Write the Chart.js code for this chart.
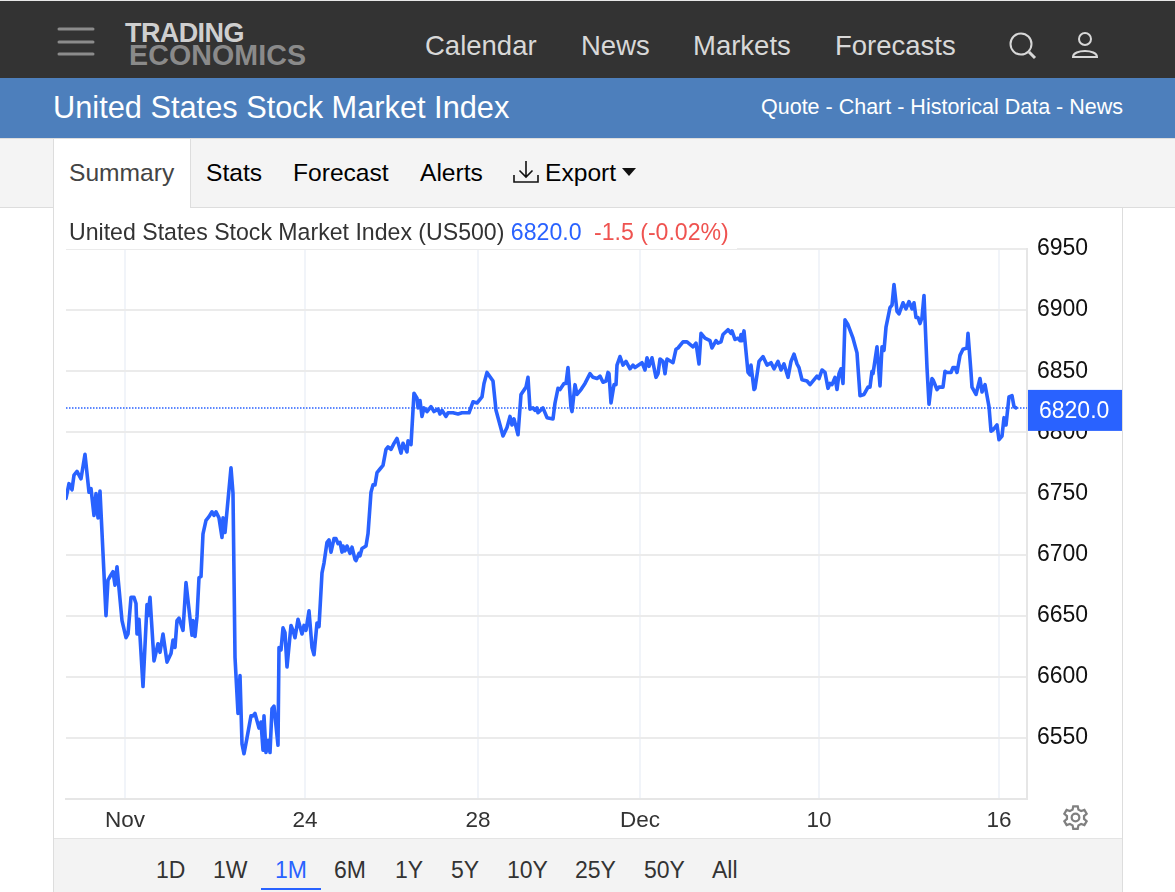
<!DOCTYPE html>
<html>
<head>
<meta charset="utf-8">
<title>United States Stock Market Index</title>
<script src="https://cdn.jsdelivr.net/npm/chart.js@4/dist/chart.umd.min.js"></script>
<style>
  html, body { margin: 0; padding: 0; background: #fff; }
  body { width: 1175px; height: 892px; position: relative; overflow: hidden; font-family: "Liberation Sans", Arial, sans-serif; }
  .abs { position: absolute; white-space: nowrap; line-height: 1; }
  #top { position: absolute; left: 0; top: 0; width: 1175px; height: 78px; background: #333; border-top: 1px solid #e8e8e8; box-sizing: border-box; }
  #blue { position: absolute; left: 0; top: 78px; width: 1175px; height: 60px; background: #4d7fbc; }
  #tabs { position: absolute; left: 0; top: 138px; width: 1175px; height: 68px; background: #f4f4f4; border-top: 1px solid #ddd; border-bottom: 1px solid #ddd; }
  #summaryTab { position: absolute; left: 53px; top: 139px; width: 136px; height: 69px; background: #fff; border-left: 1px solid #ddd; border-right: 1px solid #ddd; }
  #frameL { position: absolute; left: 53px; top: 208px; width: 1px; height: 684px; background: #ddd; }
  #frameR { position: absolute; left: 1122px; top: 208px; width: 1px; height: 684px; background: #ddd; }
  #chartBox { position: absolute; left: 54px; top: 208px; width: 1068px; height: 630px; }
  #rangeBar { position: absolute; left: 54px; top: 838px; width: 1068px; height: 54px; background: #f3f3f3; border-top: 1px solid #e4e4e4; box-sizing: border-box; }
  #underline { position: absolute; left: 261px; top: 888px; width: 60px; height: 2px; background: #2962ff; }
  .nav { color: #d8d8d8; font-size: 27.5px; top: 32px; }
  .tab { color: #000; font-size: 24.6px; top: 161px; }
  .range { color: #333; font-size: 23px; top: 859px; }
  #legend { left: 66px; top: 220px; height: 29px; padding: 0 8px 0 3px; background: #fff; font-size: 23.12px; color: #333; line-height: 25px; }
</style>
</head>
<body>
<div id="top"></div>
<div id="blue"></div>
<div id="tabs"></div>
<div id="summaryTab"></div>
<div id="chartBox"><canvas id="chart" width="1068" height="630"></canvas></div>
<div id="frameL"></div>
<div id="frameR"></div>
<div id="rangeBar"></div>
<div id="underline"></div>

<svg class="abs" style="left:57px;top:27px" width="38" height="30"><g stroke="#8c8c8c" stroke-width="3" stroke-linecap="round"><line x1="2" y1="2" x2="36" y2="2"/><line x1="2" y1="15" x2="36" y2="15"/><line x1="2" y1="27" x2="36" y2="27"/></g></svg>
<div class="abs" style="left:125px;top:20px;font-size:27px;font-weight:bold;color:#cfcfcf;letter-spacing:-0.6px">TRADING</div>
<div class="abs" style="left:129px;top:41px;font-size:28.6px;font-weight:bold;color:#8a8a8a;letter-spacing:0.1px">ECONOMICS</div>
<div class="abs nav" style="left:425px">Calendar</div>
<div class="abs nav" style="left:581px">News</div>
<div class="abs nav" style="left:693px">Markets</div>
<div class="abs nav" style="left:835px">Forecasts</div>
<svg class="abs" style="left:1008px;top:31px" width="30" height="30" fill="none" stroke="#d8d8d8"><circle cx="13" cy="13" r="10.5" stroke-width="2"/><line x1="21" y1="21" x2="27" y2="27" stroke-width="3"/></svg>
<svg class="abs" style="left:1070px;top:31px" width="30" height="28" fill="none" stroke="#d8d8d8" stroke-width="2"><circle cx="15" cy="8" r="6"/><path d="M3 26 C3 18 27 18 27 26 Z"/></svg>

<div class="abs" style="left:53px;top:93px;font-size:30.75px;color:#fff">United States Stock Market Index</div>
<div class="abs" style="left:761px;top:97px;font-size:21.5px;color:#fff">Quote - Chart - Historical Data - News</div>

<div class="abs tab" style="left:69px;color:#444">Summary</div>
<div class="abs tab" style="left:206px">Stats</div>
<div class="abs tab" style="left:293px">Forecast</div>
<div class="abs tab" style="left:420px">Alerts</div>
<svg class="abs" style="left:512px;top:159px" width="28" height="26" fill="none" stroke="#111" stroke-width="1.6"><path d="M2 16 V23 H26 V16"/><path d="M14 2 V18 M7.5 11.5 L14 18 L20.5 11.5"/></svg>
<div class="abs tab" style="left:545px">Export</div>
<svg class="abs" style="left:622px;top:168px" width="15" height="9"><path d="M0 0 H14 L7 8 Z" fill="#111"/></svg>

<div class="abs" id="legend">United States Stock Market Index (US500) <span style="color:#2962ff">6820.0</span> <span style="color:#ef5350;margin-left:6px">-1.5 (-0.02%)</span></div>

<svg class="abs" style="left:1062px;top:804px" width="27" height="27" viewBox="0 0 24 24" fill="none" stroke="#808080" stroke-width="2"><circle cx="12" cy="12" r="3.4"/><path d="M10 2 H14 L14.6 5 L17 6.3 L19.9 5.3 L21.9 8.7 L19.6 10.7 V13.3 L21.9 15.3 L19.9 18.7 L17 17.7 L14.6 19 L14 22 H10 L9.4 19 L7 17.7 L4.1 18.7 L2.1 15.3 L4.4 13.3 V10.7 L2.1 8.7 L4.1 5.3 L7 6.3 L9.4 5 Z"/></svg>

<div class="abs range" style="left:156px">1D</div>
<div class="abs range" style="left:213px">1W</div>
<div class="abs range" style="left:275px;color:#2962ff">1M</div>
<div class="abs range" style="left:334px">6M</div>
<div class="abs range" style="left:395px">1Y</div>
<div class="abs range" style="left:451px">5Y</div>
<div class="abs range" style="left:507px">10Y</div>
<div class="abs range" style="left:575px">25Y</div>
<div class="abs range" style="left:644px">50Y</div>
<div class="abs range" style="left:712px">All</div>

<script>
const tickHours = [29.5, 119.5, 206, 287, 376.5, 466.5];
const tickLabels = ["Nov", "24", "28", "Dec", "10", "16"];
const priceTicks = [6550, 6600, 6650, 6700, 6750, 6800, 6850, 6900, 6950];
const lastPrice = 6820;
const lastHour = 480.5;

// trading hours since the start of the window
const hours = [
  0, 1.5, 3, 4, 5.5, 7.5, 9.5, 11.5, 12.5, 14, 15, 16, 17, 20, 21, 22, 23.5, 24.5, 25.5, 28,
  30, 31, 32.5, 34, 35, 35.5, 36.5, 38.5, 40.5, 41, 42, 44, 46, 47, 48.5, 50.5, 52.5, 53.5, 54.5, 55.5,
  56.5, 58.5, 60, 62, 63, 63.5, 64.5, 65.5, 66.5, 67.5, 68.5, 70, 71.5, 73, 74, 75, 76.5, 78, 78.5, 79.5,
  82.5, 83.5, 84.5, 86, 87, 88, 89, 90.5, 92.5, 93.5, 94.5, 96.5, 97.5, 98.5, 99, 100, 101, 102, 103, 104,
  106, 106.5, 107.5, 108.5, 109.5, 110.5, 112.5, 113.5, 114.5, 116, 118, 119, 120, 121.5, 123, 124, 125.5, 126.5, 128, 129,
  130.5, 131.5, 132.5, 134, 135, 136, 137, 138, 138.5, 139.5, 140.5, 142, 143, 144.5, 145, 146.5, 147, 148, 150, 151,
  152.5, 153.5, 154.5, 155.5, 157, 158.5, 160, 161, 162.5, 164, 165.5, 167.5, 168.5, 170.5, 171, 172.5, 174, 175.5, 176, 177,
  178, 179, 180.5, 182.5, 184, 186, 187, 188, 190, 191, 193.5, 196, 198, 201.5, 203.5, 205.5, 208, 209, 210.5, 213.5,
  215, 218.5, 220.5, 222, 223, 224, 226, 227.5, 230, 231, 232, 233.5, 234.5, 235.5, 236, 238.5, 240.5, 243.5, 244.5, 246,
  247, 249, 250, 251, 252.5, 253, 254.5, 255.5, 257.5, 259.5, 262, 263.5, 265.5, 267, 268.5, 270, 271, 271.5, 272.5, 274,
  275, 275.5, 277, 278.5, 280, 282, 283.5, 284.5, 288, 289.5, 290.5, 291.5, 293, 295, 296, 297, 298.5, 299.5, 300.5, 303.5,
  305, 306, 308.5, 310.5, 312, 313.5, 315, 316.5, 317.5, 319.5, 322, 323, 325, 326, 327.5, 328.5, 331, 332.5, 333, 334.5,
  336, 337, 337.5, 338, 339, 341, 342, 342.5, 344, 344.5, 346.5, 348.5, 350.5, 352.5, 354, 356, 357.5, 359, 361, 362.5,
  364, 365.5, 366.5, 368, 370.5, 372, 375.5, 376.5, 378, 379.5, 381, 382, 383, 384.5, 385.5, 386.5, 387.5, 388.5, 389.5, 391,
  393.5, 395.5, 397, 399, 401, 402, 403, 403.5, 405.5, 407, 408, 409, 410, 412, 413, 414, 415.5, 416.5, 418.5, 420,
  421.5, 423, 424, 425, 426, 427, 428, 429, 430.5, 431.5, 433, 433.5, 435.5, 436.5, 438.5, 439.5, 440.5, 442.5, 443.5, 444.5,
  445.5, 447, 448.5, 450.5, 451, 452.5, 453, 455, 457, 458, 459.5, 461.5, 462.5, 463.5, 465.5, 466.5, 468, 469, 470, 471.5,
  473, 474, 475
];

// index level at each of those hours
const closes = [
  6746, 6758, 6753, 6765, 6768, 6762, 6782, 6751, 6754, 6732, 6750, 6730, 6752, 6650, 6679, 6682, 6686, 6675, 6690, 6646,
  6632, 6635, 6665, 6665, 6660, 6635, 6647, 6592, 6659, 6650, 6665, 6613, 6627, 6620, 6635, 6612, 6619, 6630, 6624, 6646,
  6648, 6638, 6677, 6648, 6634, 6646, 6633, 6649, 6681, 6682, 6717, 6728, 6731, 6735, 6732, 6735, 6730, 6714, 6730, 6718,
  6771, 6750, 6616, 6570, 6601, 6545, 6537, 6550, 6568, 6568, 6570, 6558, 6563, 6540, 6568, 6538, 6548, 6538, 6574, 6576,
  6544, 6624, 6622, 6640, 6636, 6608, 6642, 6638, 6632, 6647, 6635, 6642, 6638, 6654, 6624, 6618, 6644, 6641, 6685, 6693,
  6710, 6712, 6702, 6713, 6713, 6709, 6710, 6702, 6707, 6703, 6707, 6701, 6706, 6696, 6695, 6701, 6699, 6705, 6707, 6717,
  6751, 6757, 6757, 6767, 6770, 6773, 6786, 6788, 6786, 6791, 6795, 6783, 6791, 6784, 6793, 6790, 6832, 6828, 6820, 6826,
  6813, 6820, 6817, 6821, 6817, 6819, 6815, 6818, 6813, 6816, 6816, 6815, 6816, 6816, 6825, 6824, 6829, 6840, 6849, 6842,
  6818, 6797, 6804, 6813, 6806, 6811, 6798, 6831, 6837, 6845, 6819, 6820, 6818, 6820, 6816, 6820, 6812, 6811, 6824, 6836,
  6835, 6840, 6840, 6853, 6820, 6817, 6839, 6831, 6835, 6840, 6848, 6845, 6844, 6846, 6841, 6842, 6849, 6848, 6824, 6839,
  6839, 6855, 6862, 6855, 6858, 6852, 6855, 6853, 6857, 6851, 6861, 6854, 6861, 6845, 6848, 6860, 6858, 6848, 6860, 6857,
  6868, 6869, 6874, 6874, 6872, 6870, 6873, 6856, 6881, 6877, 6875, 6869, 6875, 6873, 6874, 6880, 6884, 6881, 6883, 6876,
  6877, 6875, 6880, 6875, 6883, 6849, 6847, 6855, 6835, 6836, 6858, 6862, 6855, 6857, 6852, 6858, 6851, 6856, 6845, 6858,
  6864, 6856, 6853, 6843, 6842, 6839, 6846, 6844, 6851, 6849, 6836, 6840, 6839, 6845, 6835, 6848, 6852, 6840, 6892, 6888,
  6877, 6865, 6830, 6831, 6837, 6837, 6850, 6848, 6870, 6838, 6870, 6867, 6886, 6902, 6904, 6921, 6899, 6897, 6906, 6901,
  6907, 6901, 6906, 6894, 6894, 6889, 6894, 6912, 6853, 6823, 6844, 6843, 6835, 6837, 6837, 6850, 6849, 6849, 6853, 6853,
  6849, 6863, 6868, 6869, 6881, 6849, 6837, 6831, 6844, 6833, 6839, 6821, 6801, 6802, 6806, 6794, 6797, 6812, 6806, 6829,
  6830, 6821, 6820
];

const BLUE = "#2962ff";

// price tag on the right axis, painted over the tick labels
const priceTag = {
  id: "priceTag",
  afterDraw(chart) {
    const ctx = chart.ctx;
    const y = chart.scales.y.getPixelForValue(lastPrice);
    const left = chart.chartArea.right + 1;
    ctx.save();
    ctx.fillStyle = BLUE;
    ctx.fillRect(left, y - 18, 94, 41);
    ctx.fillStyle = "#fff";
    ctx.font = '23px "Liberation Sans", Arial, sans-serif';
    ctx.textAlign = "left";
    ctx.textBaseline = "middle";
    ctx.fillText(lastPrice.toFixed(1), left + 11, y + 4);
    ctx.restore();
  }
};

new Chart(document.getElementById("chart"), {
  type: "line",
  data: {
    datasets: [
      {
        data: hours.map((h, i) => ({ x: h, y: closes[i] })),
        borderColor: BLUE,
        borderWidth: 3.6,
        borderJoinStyle: "round",
        borderCapStyle: "round",
        pointRadius: 0,
        tension: 0,
        fill: false
      },
      {
        data: [{ x: 0, y: lastPrice }, { x: lastHour, y: lastPrice }],
        borderColor: BLUE,
        borderWidth: 1.5,
        borderDash: [1.5, 1.5],
        pointRadius: 0,
        fill: false
      }
    ]
  },
  options: {
    responsive: false,
    animation: false,
    devicePixelRatio: 1,
    layout: { padding: { left: 12, top: 41, right: 0, bottom: 0 } },
    plugins: { legend: { display: false }, tooltip: { enabled: false }, title: { display: false } },
    scales: {
      x: {
        type: "linear",
        min: 0,
        max: lastHour,
        afterBuildTicks(axis) {
          axis.ticks = tickHours.map((h) => ({ value: h }));
        },
        afterFit(axis) {
          axis.height = 39;
        },
        grid: { color: "#f1f4f9", lineWidth: 2, drawTicks: false },
        border: { color: "#e6e6e6", width: 2 },
        ticks: {
          autoSkip: false,
          maxRotation: 0,
          padding: 8,
          color: "#333",
          font: { family: '"Liberation Sans", Arial, sans-serif', size: 22.5 },
          callback: (value) => tickLabels[tickHours.indexOf(value)]
        }
      },
      y: {
        position: "right",
        min: 6500,
        max: 6950,
        afterFit(axis) {
          axis.width = 95;
        },
        grid: { color: "#ebebeb", lineWidth: 2, drawTicks: false },
        border: { color: "#e6e6e6", width: 2 },
        ticks: {
          stepSize: 50,
          padding: 10,
          labelOffset: 0,
          color: "#111",
          font: { family: '"Liberation Sans", Arial, sans-serif', size: 23 },
          callback: (value) => (priceTicks.includes(value) ? String(value) : "")
        }
      }
    }
  },
  plugins: [priceTag]
});
</script>
</body>
</html>
